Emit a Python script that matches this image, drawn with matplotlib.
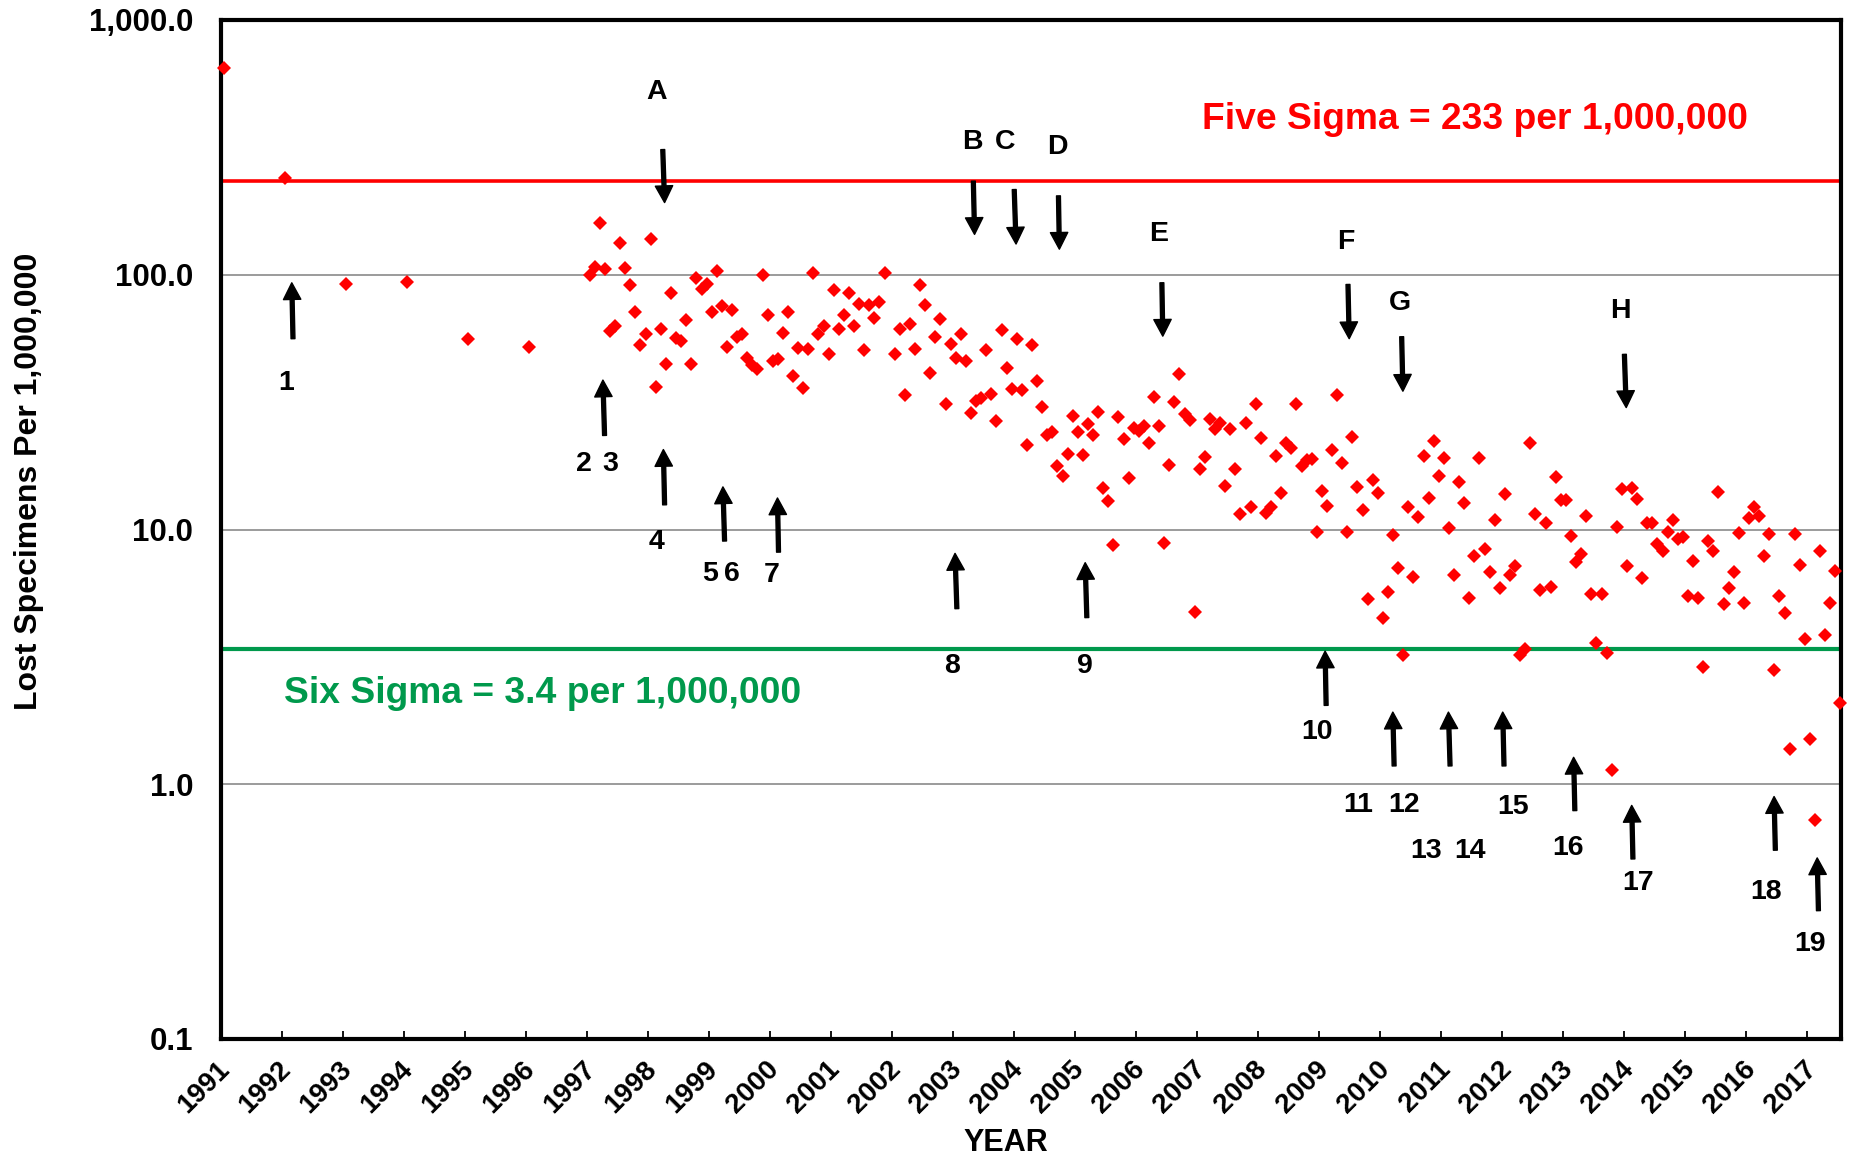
import numpy as np
import matplotlib
matplotlib.use("Agg")
import matplotlib.pyplot as plt
from matplotlib.ticker import FixedLocator, NullLocator
from matplotlib.transforms import ScaledTranslation

plt.rcParams['font.family'] = ['Liberation Sans', 'DejaVu Sans']
plt.rcParams['font.weight'] = 'bold'

# yearly figures before monthly tracking started
annual_years = [1991, 1992, 1993, 1994, 1995, 1996]
annual_rate = [649, 240, 92, 94, 56, 52]

# monthly lost specimens per 1,000,000 (Jan..Dec)
m1997 = [99.4, 107, 160, 105, 60.4, 62.8, 133, 106, 90.8, 71.3, 52.8, 58.3]
m1998 = [137.6, 36.3, 61, 44.7, 85, 56.6, 54.9, 66.2, 44.5, 97.3, 88.1, 91.6]
m1999 = [71.3, 103.3, 75.3, 52, 72.4, 56.9, 58.3, 47.2, 44.2, 42.5, 99.4, 69.2]
m2000 = [45.8, 46.5, 59.2, 71.3, 40, 51.7, 35.8, 51.2, 101.8, 58.8, 63.2, 49]
m2001 = [87, 61.5, 69.8, 85, 63.2, 77.1, 50.6, 75.8, 67.8, 78.3, 101.2, np.nan]
m2002 = [48.7, 61, 33.6, 63.8, 50.9, 90.8, 75.8, 41, 57.1, 67.2, 31.2, 53.6]
m2003 = [47, 58.7, 45.9, 28.7, 31.9, 32.9, 50.6, 33.9, 26.7, 60.5, 42.9, 35.5]
m2004 = [56.1, 35.4, 21.4, 52.8, 38.3, 30.2, 23.6, 24.1, 17.8, 16.2, 19.7, 28.0]
m2005 = [24.1, 19.6, 25.9, 23.6, 28.9, 14.6, 12.9, 8.69, 27.6, 22.7, 15.9, 25.1]
m2006 = [24.3, 25.6, 21.8, 33.2, 25.5, 8.87, 17.9, 31.7, 40.6, 28.5, 26.9, 4.76]
m2007 = [17.2, 19.3, 27.2, 24.7, 26.2, 14.8, 24.7, 17.3, 11.5, 26.2, 12.2, 31]
m2008 = [22.9, 11.6, 12.2, 19.5, 13.9, 21.9, 20.9, 31.2, 17.8, 18.8, 18.9, 9.77]
m2009 = [14.2, 12.4, 20.5, 33.7, 18.3, 9.77, 23.1, 14.7, 11.9, 5.32, 15.6, 13.9]
m2010 = [4.5, 5.68, 9.48, 7.03, 3.23, 12.3, 6.5, 11.2, 19.5, 13.3, 22.2, 16.2]
m2011 = [19.1, 10.1, 6.62, 15.4, 12.7, 5.4, 7.86, 19.1, 8.35, 6.8, 10.9, 5.87]
m2012 = [13.8, 6.6, 7.18, 3.23, 3.4, 21.9, 11.5, 5.77, 10.6, 5.94, 16.1, 13.0]
m2013 = [13.1, 9.42, 7.45, 7.98, 11.3, 5.56, 3.59, 5.58, 3.28, 1.14, 10.25, 14.4]
m2014 = [7.18, 14.6, 13.2, 6.47, 10.6, 10.6, 8.74, 8.27, 9.77, 10.9, 9.14, 9.34]
m2015 = [5.48, 7.52, 5.4, 2.89, 9.0, 8.27, 14.0, 5.08, 5.87, 6.83, 9.65, 5.16]
m2016 = [11.1, 12.2, 11.3, 7.86, 9.56, 2.82, 5.48, 4.71, 1.38, 9.56, 7.23, 3.73]
m2017 = [1.51, 0.724, 8.23, 3.85, 5.16, 6.87, 2.08]

monthly = [m1997, m1998, m1999, m2000, m2001, m2002, m2003, m2004, m2005,
           m2006, m2007, m2008, m2009, m2010, m2011, m2012, m2013, m2014,
           m2015, m2016, m2017]
first_month_year = 1997

five_sigma = 233
six_sigma = 3.4

# event markers: (text, label x, label y, tail x, tail y, head x, head y)
down_arrows = [
    ('A', 1998.14, 523, 1998.24, 310, 1998.27, 192),
    ('B', 2003.32, 331, 2003.33, 233, 2003.35, 144),
    ('C', 2003.85, 331, 2004.00, 216, 2004.03, 132),
    ('D', 2004.70, 317, 2004.725, 204, 2004.74, 126),
    ('E', 2006.36, 144, 2006.42, 93, 2006.435, 57.4),
    ('F', 2009.44, 134, 2009.47, 91.6, 2009.49, 56.1),
    ('G', 2010.32, 77.2, 2010.35, 57.1, 2010.37, 34.9),
    ('H', 2013.93, 72, 2014.00, 48.7, 2014.03, 30.1),
]
up_arrows = [
    (1992.18, 56.1, 1992.16, 93),
    (1997.286, 23.4, 1997.259, 38.6),
    (1998.27, 12.5, 1998.25, 20.6),
    (1999.253, 9.01, 1999.226, 14.7),
    (2000.137, 8.15, 2000.12, 13.3),
    (2003.06, 4.89, 2003.03, 8.06),
    (2005.19, 4.51, 2005.163, 7.41),
    (2009.112, 2.04, 2009.095, 3.33),
    (2010.226, 1.18, 2010.205, 1.92),
    (2011.143, 1.18, 2011.116, 1.92),
    (2012.027, 1.18, 2012.006, 1.92),
    (2013.188, 0.788, 2013.168, 1.276),
    (2014.14, 0.509, 2014.12, 0.826),
    (2016.474, 0.551, 2016.453, 0.895),
    (2017.18, 0.319, 2017.16, 0.514),
]
up_labels = [
    ('1', 1992.06, 37.7), ('2', 1996.94, 18.0), ('3', 1997.38, 18.0),
    ('4', 1998.13, 8.93), ('5', 1999.01, 6.67), ('6', 1999.37, 6.67),
    ('7', 2000.03, 6.6), ('8', 2002.98, 2.91), ('9', 2005.15, 2.91),
    ('10', 2008.96, 1.60), ('11', 2009.64, 0.826), ('12', 2010.39, 0.826),
    ('13', 2010.75, 0.547), ('14', 2011.47, 0.547), ('15', 2012.18, 0.813),
    ('16', 2013.07, 0.56), ('17', 2014.22, 0.408), ('18', 2016.32, 0.378),
    ('19', 2017.04, 0.236),
]

red = '#FF0000'
green = '#00994C'

# x position of each month = middle of the month
mx, my = [], []
for i, vals in enumerate(monthly):
    for m, v in enumerate(vals):
        mx.append(first_month_year + i + (m + 0.5) / 12.0)
        my.append(v)
ax_years = [y + 0.5 / 12.0 for y in annual_years]

fig = plt.figure(figsize=(18.51, 11.61), dpi=100)
ax = fig.add_axes([221 / 1851, 1 - 1039 / 1161, (1841 - 221) / 1851, (1039 - 20) / 1161])

ax.set_yscale('log')
ax.set_ylim(0.1, 1000)
ax.set_xlim(1991, 2017.55)

ax.axhline(five_sigma, color=red, lw=2.6, zorder=2)
ax.axhline(six_sigma, color=green, lw=3, zorder=2)

ax.plot(ax_years, annual_rate, 'D', color=red, ms=7, mew=0, zorder=5, clip_on=False)
ax.plot(mx, my, 'D', color=red, ms=7, mew=0, zorder=5, clip_on=False)

yt = [0.1, 1, 10, 100, 1000]
ax.yaxis.set_major_locator(FixedLocator(yt))
ax.yaxis.set_minor_locator(NullLocator())
ax.set_yticklabels(['{:,.1f}'.format(v) for v in yt], fontsize=22.5, fontweight='bold')
ax.tick_params(axis='y', length=0, pad=20)
ax.grid(axis='y', which='major', color='#808080', lw=1.1, zorder=1)

years = list(range(1991, 2018))
ax.tick_params(axis='x', direction='in', length=6, width=1.3, pad=19, labelsize=20)
ax.set_xticks(years)
ax.set_xticklabels([str(y) for y in years], fontsize=20, fontweight='bold',
                   rotation=45, ha='right', va='center', rotation_mode='anchor')
shift = ScaledTranslation(5 / 100, 0, fig.dpi_scale_trans)
for lab in ax.get_xticklabels():
    lab.set_transform(lab.get_transform() + shift)

for s in ax.spines.values():
    s.set_linewidth(3)
    s.set_zorder(4)

arrow_kw = dict(facecolor='black', edgecolor='black', width=2.8,
                headwidth=12.5, headlength=12, shrink=0)
for txt, lx, ly, tx, ty, hx, hy in down_arrows:
    ax.text(lx, ly, txt, fontsize=20.5, fontweight='bold', ha='center', va='center')
    ax.annotate('', xy=(hx, hy), xytext=(tx, ty), arrowprops=arrow_kw)
for tx, ty, hx, hy in up_arrows:
    ax.annotate('', xy=(hx, hy), xytext=(tx, ty), arrowprops=arrow_kw)
for txt, lx, ly in up_labels:
    ax.text(lx, ly, txt, fontsize=20.5, fontweight='bold', ha='center', va='center')

ax.text(2007.08, 407, 'Five Sigma = 233 per 1,000,000', color=red,
        fontsize=26.8, fontweight='bold', ha='left', va='center')
ax.text(1992.03, 2.27, 'Six Sigma = 3.4 per 1,000,000', color=green,
        fontsize=26.8, fontweight='bold', ha='left', va='center')

fig.text(29 / 1851, 1 - 481 / 1161, 'Lost Specimens Per 1,000,000', rotation=90,
         fontsize=23, fontweight='bold', ha='center', va='center')
fig.text(1006 / 1851, 1 - 1143 / 1161, 'YEAR', fontsize=22, fontweight='bold',
         ha='center', va='center')

fig.savefig('out.png', dpi=100)
